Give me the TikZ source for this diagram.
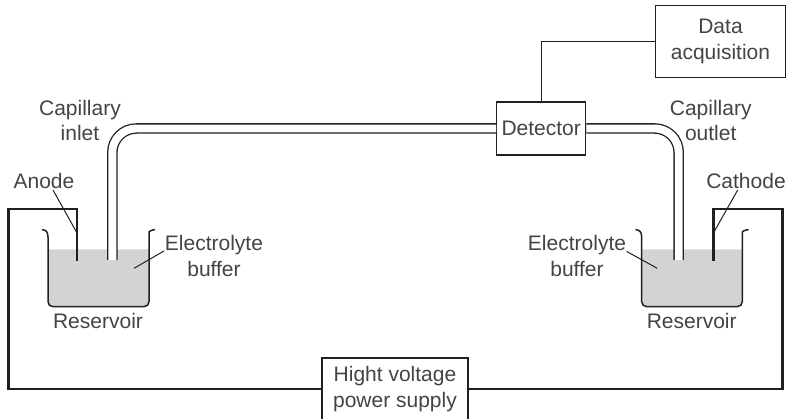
\documentclass[tikz,border=0pt]{standalone}
\usepackage{fontspec}
\setmainfont{Liberation Sans}
\definecolor{ink}{HTML}{231F20}
\definecolor{txt}{HTML}{444446}
\definecolor{buffer}{HTML}{D1D3D4}
\tikzset{
  lab/.style={inner sep=0pt,align=center,text=txt,font=\fontsize{21}{25.7}\selectfont},
  boxed/.style={lab,draw=ink,line width=1.4pt,fill=white},
  wire/.style={draw=ink,line width=2.7pt,line join=miter},
  thin wire/.style={draw=ink,line width=1.3pt},
  leader/.style={draw=ink,line width=1pt},
  beaker/.style={draw=ink,line width=1.5pt},
  liquid/.style={fill=buffer},
  capillary/.style={draw=ink,line width=1.3pt,double=white,double distance=7.9pt,rounded corners=24pt}
}
\begin{document}
\begin{tikzpicture}[x=1pt,y=-1pt]
\clip (0,0) rectangle (790,419);
\fill[white] (0,0) rectangle (790,419);
% boxes
\node[boxed,minimum width=89pt,minimum height=53pt] (det) at (541.2,128.5) {Detector};
\node[boxed,minimum width=129.6pt,minimum height=71.6pt] (daq) at (720.5,41.5) {Data\\acquisition};
\node[boxed,minimum width=146.3pt,minimum height=62pt] (psu) at (395,389) {Hight voltage\\power supply};
% coordinates
\coordinate (capinb) at (112.3,260);
\coordinate (capoutb) at (678.7,260);
\coordinate (anodeb) at (77,260.7);
\coordinate (anodec) at (77,209);
\coordinate (lc) at (8.7,209);
\coordinate (ll) at (8.7,389);
\coordinate (cathb) at (713.4,260.7);
\coordinate (cathc) at (713.4,209);
\coordinate (rc) at (782.7,209);
\coordinate (rl) at (782.7,389);
\coordinate (anodetip) at (77,233);
\coordinate (cathtip) at (713.4,233);
\coordinate (bufl) at (134,268.3);
\coordinate (bufr) at (657.3,268.3);
% liquids
\fill[liquid,rounded corners=5pt] (48,249.3) [sharp corners] -- (48,280) [rounded corners=5pt] -- (48,306.7) -- (149,306.7) -- (149,280) [sharp corners] -- (149,249.3) -- cycle;
\fill[liquid,rounded corners=5pt] (641.7,249.3) [sharp corners] -- (641.7,280) [rounded corners=5pt] -- (641.7,306.7) -- (742.3,306.7) -- (742.3,280) [sharp corners] -- (742.3,249.3) -- cycle;
% beakers
\draw[beaker] (42,229.7) .. controls (46,229.7) and (48,232) .. (48,237) [rounded corners=5pt] -- (48,306.7) -- (149,306.7) -- (149,237) [sharp corners] .. controls (149,232) and (151,229.7) .. (155,229.7);
\draw[beaker] (635.5,229.7) .. controls (639.5,229.7) and (641.7,232) .. (641.7,237) [rounded corners=5pt] -- (641.7,306.7) -- (742.3,306.7) -- (742.3,237) [sharp corners] .. controls (742.3,232) and (744.5,229.7) .. (748.5,229.7);
% capillaries
\draw[capillary] (capinb) |- (det.west);
\draw[capillary] (capoutb) |- (det.east);
% wires
\draw[wire] (anodeb) -- (anodec) -- (lc) -- (ll) -- (psu.west);
\draw[wire] (cathb) -- (cathc) -- (rc) -- (rl) -- (psu.east);
\draw[thin wire] (det.north) |- (daq.west);
% labels
\node[lab] (inlet) at (80,120.5) {Capillary\\inlet};
\node[lab] (outlet) at (710.7,120.5) {Capillary\\outlet};
\node[lab] (anode) at (44,180.5) {Anode};
\node[lab] (cathode) at (746,180.5) {Cathode};
\node[lab] (ebl) at (214,256) {Electrolyte\\buffer};
\node[lab] (ebr) at (577,256) {Electrolyte\\buffer};
\node[lab] (resl) at (98,320.7) {Reservoir};
\node[lab] (resr) at (691.7,320.7) {Reservoir};
% leaders
\coordinate (anodetop) at (53,190);
\coordinate (cathtop) at (737.7,190);
\coordinate (ebltip) at (164,251);
\coordinate (ebrtip) at (626.7,251.5);
\draw[leader] (anodetop) -- (anodetip);
\draw[leader] (cathtop) -- (cathtip);
\draw[leader] (ebltip) -- (bufl);
\draw[leader] (ebrtip) -- (bufr);
\end{tikzpicture}
\end{document}
